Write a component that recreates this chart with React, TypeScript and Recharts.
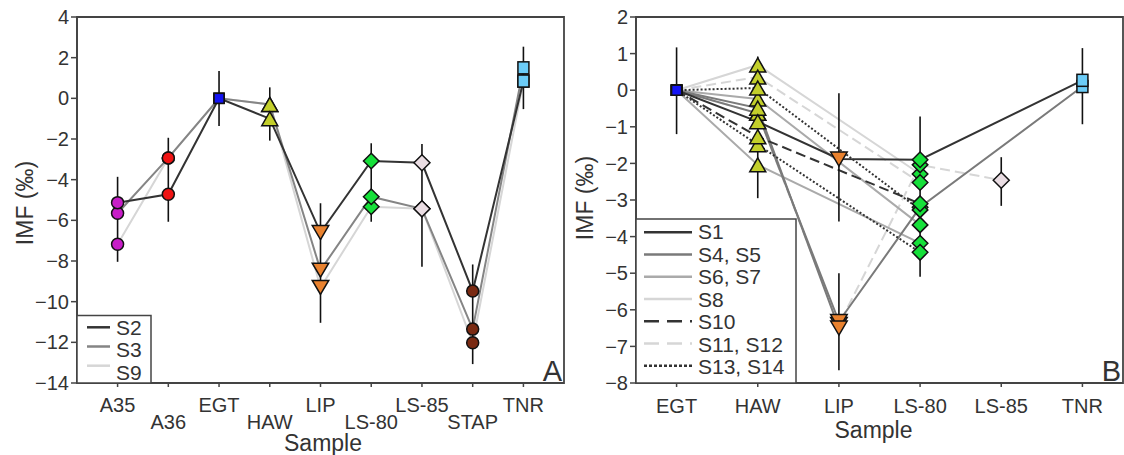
import React from 'react'
import { ComposedChart, Line, Scatter, XAxis, YAxis, ErrorBar, ReferenceArea } from 'recharts'

const FONT = '"Liberation Sans", Arial, Helvetica, sans-serif'
const INK = '#333'
const AXIS = '#444'

// ---- panel A ----
const samplesA = ['A35', 'A36', 'EGT', 'HAW', 'LIP', 'LS-80', 'LS-85', 'STAP', 'TNR']
const s2 = [-5.13, -4.72, 0, -1.0, -6.6, -3.08, -3.17, -9.48, 0.85]
const s3 = [-5.65, -2.93, 0, -0.3, -8.45, -4.84, -5.43, -11.35, 1.5]
const s9 = [-7.18, -2.93, 0, -0.3, -9.3, -5.33, -5.43, -12.02, 0.85]
const errXA = [0, 1, 2, 3, 4, 5, 6, 7, 8]
const errLoA = [-8.04, -6.07, -1.36, -2.08, -11.04, -6.07, -8.28, -13.07, -0.53]
const errHiA = [-3.86, -1.94, 1.34, 0.54, -5.16, -2.21, -2.25, -8.17, 2.54]
const yTicksA = [-14, -12, -10, -8, -6, -4, -2, 0, 2, 4]

// ---- panel B ----
const samplesB = ['EGT', 'HAW', 'LIP', 'LS-80', 'LS-85', 'TNR']
const s1 = [0, -0.86, -1.88, -1.9, null, 0.27]
const s4 = [0, -0.63, -6.32, -3.2, null, 0.1]
const s5 = [0, -0.49, -6.5, null, null, null]
const s6 = [0, -0.24, null, -3.68, null, null]
const s7 = [0, -2.04, null, -4.18, null, null]
const s8 = [0, 0.69, null, -2.29, null, null]
const s10 = [0, -1.27, null, -3.1, null, null]
const s11 = [0, 0.36, null, -2.52, null, null]
const s12 = [0, -0.63, -6.4, -2.04, -2.46, null]
const s13 = [0, 0.06, null, -3.27, null, null]
const s14 = [0, -1.49, null, -4.43, null, null]
const errXB = [0, 1, 2, 2, 3, 4, 5]
const errLoB = [-1.2, -2.95, -3.59, -7.65, -5.1, -3.16, -0.93]
const errHiB = [1.17, 0.92, -0.08, -5.0, -0.72, -1.83, 1.15]
const yTicksB = [-8, -7, -6, -5, -4, -3, -2, -1, 0, 1, 2]

const MARKERS: Record<string, { kind: string; fill: string; w: number; h: number }> = {
  A35: { kind: 'circle', fill: '#c81ec8', w: 13, h: 13 },
  A36: { kind: 'circle', fill: '#f01414', w: 13, h: 13 },
  EGT: { kind: 'rect', fill: '#1414f5', w: 10, h: 10 },
  HAW: { kind: 'up', fill: '#c3cf2b', w: 16, h: 14 },
  LIP: { kind: 'down', fill: '#e9822f', w: 16.5, h: 14 },
  'LS-80': { kind: 'diamond', fill: '#16e03a', w: 15.5, h: 15.5 },
  'LS-85': { kind: 'diamond', fill: '#eadde3', w: 16, h: 16 },
  STAP: { kind: 'circle', fill: '#7a2a12', w: 13, h: 13 },
  TNR: { kind: 'rect', fill: '#6cccf7', w: 11, h: 12 },
}

const Marker = ({ cx, cy, name }: any) => {
  const m = MARKERS[name]
  if (cx == null || cy == null) return <g />
  const st = { fill: m.fill, stroke: '#111', strokeWidth: 1.5 }
  const a = m.w / 2
  const b = m.h / 2
  if (m.kind === 'circle') return <circle cx={cx} cy={cy} r={a - 0.5} {...st} />
  if (m.kind === 'rect') return <rect x={cx - a} y={cy - b} width={m.w} height={m.h} {...st} />
  if (m.kind === 'up') return <path d={`M${cx},${cy - b}L${cx + a},${cy + b}L${cx - a},${cy + b}Z`} {...st} />
  if (m.kind === 'down') return <path d={`M${cx},${cy + b}L${cx + a},${cy - b}L${cx - a},${cy - b}Z`} {...st} />
  return <path d={`M${cx},${cy - b}L${cx + a},${cy}L${cx},${cy + b}L${cx - a},${cy}Z`} {...st} />
}

const minus = (v: number) => String(v).replace('-', '\u2212')

const Panel = ({ left, width, samples, series, errX, errLo, errHi, xDomain, yDomain, yTicks, yWidth, mRight, tickY }: any) => {
  const rows = samples.map((_: string, i: number) => {
    const r: any = { x: i }
    series.forEach((s: any) => { r[s.key] = s.values[i] })
    return r
  })
  const errRows = errX.map((x: number, i: number) => ({ x, y: (errLo[i] + errHi[i]) / 2, err: (errHi[i] - errLo[i]) / 2 }))
  const markerSets = samples.map((name: string, i: number) => ({
    name,
    pts: series.filter((s: any) => s.values[i] != null).map((s: any) => ({ x: i, y: s.values[i] })),
  }))

  const Tick = ({ x, payload }: any) => (
    <text x={x} y={tickY(payload.value)} textAnchor="middle" fontSize={20} fill={INK} fontFamily={FONT}>
      {samples[payload.value]}
    </text>
  )

  return (
    <div style={{ position: 'absolute', left, top: 0 }}>
      <ComposedChart width={width} height={455} data={rows} margin={{ top: 17, right: mRight, bottom: 32, left: 0 }}>
        <XAxis
          type="number"
          dataKey="x"
          domain={xDomain}
          ticks={samples.map((_: string, i: number) => i)}
          interval={0}
          height={40}
          tickSize={4}
          tick={(p: any) => <Tick {...p} />}
          axisLine={{ stroke: AXIS, strokeWidth: 1.8 }}
          tickLine={{ stroke: AXIS, strokeWidth: 1.5 }}
        />
        <YAxis
          type="number"
          domain={yDomain}
          ticks={yTicks}
          interval={0}
          width={yWidth}
          tickSize={6}
          tickFormatter={minus}
          tick={{ fontSize: 20, fill: INK, fontFamily: FONT }}
          axisLine={{ stroke: AXIS, strokeWidth: 1.8 }}
          tickLine={{ stroke: AXIS, strokeWidth: 1.5 }}
        />
        <ReferenceArea x1={xDomain[0]} x2={xDomain[1]} y1={yDomain[0]} y2={yDomain[1]} fill="none" stroke={AXIS} strokeWidth={1.8} />
        {series.map((s: any) => (
          <Line
            key={s.key}
            dataKey={s.key}
            stroke={s.stroke}
            strokeWidth={2}
            strokeDasharray={s.dash}
            dot={false}
            activeDot={false}
            connectNulls
            isAnimationActive={false}
          />
        ))}
        <Scatter data={errRows} dataKey="y" shape={() => <g />} isAnimationActive={false}>
          <ErrorBar dataKey="err" direction="y" width={0} stroke="#111" strokeWidth={1.6} />
        </Scatter>
        {markerSets.map((m: any) => (
          <Scatter
            key={m.name}
            data={m.pts}
            dataKey="y"
            isAnimationActive={false}
            shape={(p: any) => <Marker cx={p.cx} cy={p.cy} name={m.name} />}
          />
        ))}
      </ComposedChart>
    </div>
  )
}

const seriesA = [
  { key: 'S9', values: s9, stroke: '#d6d6d6' },
  { key: 'S3', values: s3, stroke: '#858585' },
  { key: 'S2', values: s2, stroke: '#333' },
]

const seriesB = [
  { key: 'S8', values: s8, stroke: '#d6d6d6' },
  { key: 'S11', values: s11, stroke: '#d6d6d6', dash: '10 5' },
  { key: 'S12', values: s12, stroke: '#d6d6d6', dash: '10 5' },
  { key: 'S6', values: s6, stroke: '#aaa' },
  { key: 'S7', values: s7, stroke: '#aaa' },
  { key: 'S4', values: s4, stroke: '#7a7a7a' },
  { key: 'S5', values: s5, stroke: '#7a7a7a' },
  { key: 'S14', values: s14, stroke: '#333', dash: '2 2' },
  { key: 'S13', values: s13, stroke: '#333', dash: '2 2' },
  { key: 'S10', values: s10, stroke: '#333', dash: '10 5' },
  { key: 'S1', values: s1, stroke: '#333' },
]

const legendA = [
  { label: 'S2', stroke: '#333' },
  { label: 'S3', stroke: '#858585' },
  { label: 'S9', stroke: '#d6d6d6' },
]

const legendB = [
  { label: 'S1', stroke: '#333' },
  { label: 'S4, S5', stroke: '#7a7a7a' },
  { label: 'S6, S7', stroke: '#aaa' },
  { label: 'S8', stroke: '#d6d6d6' },
  { label: 'S10', stroke: '#333', dash: '15 8' },
  { label: 'S11, S12', stroke: '#d6d6d6', dash: '15 8' },
  { label: 'S13, S14', stroke: '#333', dash: '3 2' },
]

const App = () => {
  return (
    <div style={{ position: 'absolute', left: 0, top: 0, width: 1124, height: 455, background: '#fff', fontFamily: FONT }}>
      <Panel
        left={0}
        width={566}
        mRight={2}
        yWidth={77}
        samples={samplesA}
        series={seriesA}
        errX={errXA}
        errLo={errLoA}
        errHi={errHiA}
        xDomain={[-0.8, 8.8]}
        yDomain={[-14, 4]}
        yTicks={yTicksA}
        tickY={(i: number) => (i % 2 === 1 ? 429 : 411.5)}
      />
      <Panel
        left={560}
        width={564}
        mRight={1}
        yWidth={76}
        samples={samplesB}
        series={seriesB}
        errX={errXB}
        errLo={errLoB}
        errHi={errHiB}
        xDomain={[-0.5, 5.5]}
        yDomain={[-8, 2]}
        yTicks={yTicksB}
        tickY={() => 412.5}
      />
      <svg width={1124} height={455} style={{ position: 'absolute', left: 0, top: 0, pointerEvents: 'none' }} fontFamily={FONT}>
        <rect x={77} y={315.5} width={74} height={67.5} fill="#fff" stroke={AXIS} strokeWidth={1.5} />
        {legendA.map((l, i) => (
          <g key={l.label}>
            <line x1={87} x2={110} y1={327.3 + i * 19.2} y2={327.3 + i * 19.2} stroke={l.stroke} strokeWidth={2.5} />
            <text x={116} y={334.5 + i * 22.6} fontSize={21} fill={INK}>{l.label}</text>
          </g>
        ))}
        <rect x={636} y={219} width={160} height={164} fill="#fff" stroke={AXIS} strokeWidth={1.5} />
        {legendB.map((l, i) => (
          <g key={l.label}>
            <line x1={644} x2={692} y1={232.3 + i * 22.25} y2={232.3 + i * 22.25} stroke={l.stroke} strokeWidth={2.5} strokeDasharray={l.dash} />
            <text x={698} y={239 + i * 22.5} fontSize={21} fill={INK}>{l.label}</text>
          </g>
        ))}
        <text transform="translate(33,203) rotate(-90)" textAnchor="middle" fontSize={23} fill={INK}>IMF (‰)</text>
        <text transform="translate(593,198) rotate(-90)" textAnchor="middle" fontSize={23} fill={INK}>IMF (‰)</text>
        <text x={323} y={450.5} textAnchor="middle" fontSize={23} fill={INK}>Sample</text>
        <text x={873.5} y={438} textAnchor="middle" fontSize={23} fill={INK}>Sample</text>
        <text x={562} y={381} textAnchor="end" fontSize={29} fill={INK}>A</text>
        <text x={1121} y={381} textAnchor="end" fontSize={29} fill={INK}>B</text>
      </svg>
    </div>
  )
}

export default App
